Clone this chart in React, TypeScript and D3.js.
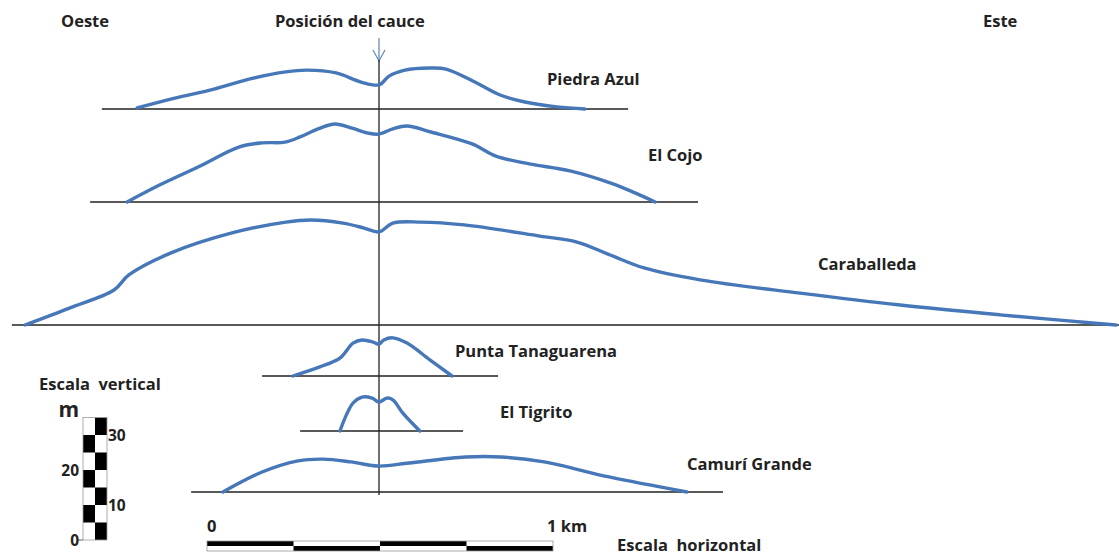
import React from "react";
import * as d3 from "d3";

// [distancia al cauce en m (oeste negativo), altura en m]
type Pt = [number, number];

const piedraAzul: Pt[] = [
  [-699, 0.3], [-590, 3.1], [-477, 5.7], [-373, 8.6], [-269, 10.6], [-208, 11.1],
  [-124, 10.3], [-52, 7.7], [0, 6.9], [29, 9.4], [75, 11.1], [145, 11.7],
  [194, 11.4], [277, 7.7], [350, 4.0], [422, 2.0], [514, 0.6], [595, 0],
];
const elCojo: Pt[] = [
  [-728, 0], [-633, 4.9], [-523, 10], [-405, 15.7], [-338, 16.9], [-272, 17.1],
  [-228, 18.6], [-176, 20.9], [-127, 22.3], [-78, 21.1], [-32, 19.7], [0, 19.4],
  [40, 20.9], [81, 21.7], [150, 20], [269, 16.6], [338, 13.1], [434, 10.9],
  [552, 8.9], [670, 5.4], [740, 2.6], [798, 0],
];
const caraballeda: Pt[] = [
  [-1023, 0], [-893, 4.9], [-766, 10], [-723, 14.3], [-601, 20.6], [-425, 26.3],
  [-269, 29.4], [-197, 30], [-104, 29.1], [-43, 27.7], [0, 26.6], [40, 29.1],
  [121, 29.4], [246, 28.6], [465, 25.4], [572, 23.7], [668, 20], [766, 16.3],
  [928, 12.9], [1217, 9.1], [1506, 5.7], [1795, 2.9], [2130, 0],
];
const puntaTanaguarena: Pt[] = [
  [-249, 0], [-171, 2.6], [-113, 5.1], [-75, 9.4], [-49, 10.3], [-17, 9.7],
  [0, 9.1], [14, 10.3], [40, 10.9], [81, 9.4], [147, 4.6], [211, 0],
];
const elTigrito: Pt[] = [
  [-113, 0], [-75, 8], [-49, 9.7], [-20, 9.4], [0, 8.3], [23, 9.4],
  [40, 8.9], [69, 5.1], [118, 0],
];
const camuriGrande: Pt[] = [
  [-451, 0], [-338, 5.7], [-234, 8.9], [-162, 9.4], [-81, 8.6], [0, 7.4],
  [87, 8.3], [251, 10], [353, 10], [477, 8.6], [665, 4.3], [890, 0],
];

const profileNames = ["Piedra Azul", "El Cojo", "Caraballeda", "Punta Tanaguarena", "El Tigrito", "Camurí Grande"];
const profileData = [piedraAzul, elCojo, caraballeda, puntaTanaguarena, elTigrito, camuriGrande];
// extremos de la línea base, m desde el cauce
const baselineExtents: [number, number][] = [
  [-801, 720], [-835, 922], [-1061, 2139], [-338, 344], [-228, 243], [-543, 994],
];

const verticalTicks = [0, 10, 20, 30];
const verticalCellM = 5;
const verticalCells = 7;
const horizontalSegments = [0, 250, 500, 750, 1000];

// layout
const W = 1119;
const H = 556;
const baseY = [109, 202, 325, 376, 431, 492];
const labelPos: [number, number][] = [
  [547, 81], [648, 157], [818, 266], [455, 353], [500, 414], [687, 466],
];
const blue = "#4677b8";
const ink = "#222";
const font = "'Open Sans', 'DejaVu Sans', sans-serif";
const fs = 16.5;

export default function App() {
  const x = d3.scaleLinear().domain([-500, 500]).range([206, 552]);
  const h = d3.scaleLinear().domain([0, 35]).range([0, 122.5]);

  const lineFor = (base: number) =>
    d3.line<Pt>()
      .x(d => x(d[0]))
      .y(d => base - h(d[1]))
      .curve(d3.curveCatmullRom.alpha(0.5));

  // escala vertical
  const vy = d3.scaleLinear().domain([0, 35]).range([540, 417.5]);
  const vLeft = 83, vMid = 95, vRight = 107;
  const cells = d3.range(verticalCells);

  // escala horizontal
  const sx = d3.scaleLinear().domain([0, 1000]).range([207, 553]);
  const sTop = 541, sMid = 546, sBot = 551;

  const cx = x(0);

  return (
    <svg width={W} height={H} style={{ position: "absolute", left: 0, top: 0, background: "#fff" }}
      fontFamily={font} fontWeight="bold" fill={ink}>
      <text x={61} y={23} fontSize={fs} dominantBaseline="middle">Oeste</text>
      <text x={275} y={23} fontSize={fs} dominantBaseline="middle">Posición del cauce</text>
      <text x={983} y={23} fontSize={fs} dominantBaseline="middle">Este</text>

      {/* cauce */}
      <line x1={cx} x2={cx} y1={38} y2={62} stroke="#6b8cba" strokeWidth={1.3} />
      <polyline points={`${cx - 6},50 ${cx},61 ${cx + 6},50`} fill="none" stroke="#6b8cba" strokeWidth={1.3} />
      <line x1={cx} x2={cx} y1={60} y2={495} stroke="#333" strokeWidth={1.4} />

      {profileData.map((data, i) => (
        <g key={profileNames[i]}>
          <line x1={x(baselineExtents[i][0])} x2={x(baselineExtents[i][1])} y1={baseY[i]} y2={baseY[i]}
            stroke={ink} strokeWidth={1.4} />
          <path d={lineFor(baseY[i])(data) ?? ""} fill="none" stroke={blue} strokeWidth={3.4}
            strokeLinecap="round" strokeLinejoin="round" />
          <text x={labelPos[i][0]} y={labelPos[i][1]} fontSize={fs} dominantBaseline="middle">{profileNames[i]}</text>
        </g>
      ))}

      {/* escala vertical */}
      <text x={39} y={386} fontSize={fs} dominantBaseline="middle" style={{ whiteSpace: "pre" }}>Escala  vertical</text>
      <text x={79} y={411} fontSize={21} textAnchor="end" dominantBaseline="middle">m</text>
      {cells.map(j => (
        <rect key={j} x={j % 2 === 0 ? vMid : vLeft} width={vRight - vMid}
          y={vy((j + 1) * verticalCellM)} height={vy(j * verticalCellM) - vy((j + 1) * verticalCellM)} fill="#000" />
      ))}
      <rect x={vLeft} y={vy(verticalCells * verticalCellM)} width={vRight - vLeft}
        height={vy(0) - vy(verticalCells * verticalCellM)} fill="none" stroke="#999" strokeWidth={0.8} />
      <line x1={vLeft - 6} x2={vLeft} y1={vy(0)} y2={vy(0)} stroke="#666" strokeWidth={1} />
      {verticalTicks.map((t, k) => (
        <text key={t} x={k % 2 === 0 ? vLeft - 4 : vRight + 1} y={vy(t) + 2} fontSize={15.5}
          textAnchor={k % 2 === 0 ? "end" : "start"} dominantBaseline="middle">{t}</text>
      ))}

      {/* escala horizontal */}
      {horizontalSegments.slice(0, -1).map((s, k) => (
        <rect key={s} x={sx(s)} width={sx(horizontalSegments[k + 1]) - sx(s)}
          y={k % 2 === 0 ? sTop : sMid} height={sMid - sTop} fill="#000" />
      ))}
      <rect x={sx(0)} y={sTop} width={sx(1000) - sx(0)} height={sBot - sTop} fill="none" stroke="#999" strokeWidth={0.8} />
      <text x={sx(0)} y={528} fontSize={fs} dominantBaseline="middle">0</text>
      <text x={sx(1000) - 6} y={528} fontSize={fs} dominantBaseline="middle">1 km</text>
      <text x={617} y={547} fontSize={fs} dominantBaseline="middle" style={{ whiteSpace: "pre" }}>Escala  horizontal</text>
    </svg>
  );
}
